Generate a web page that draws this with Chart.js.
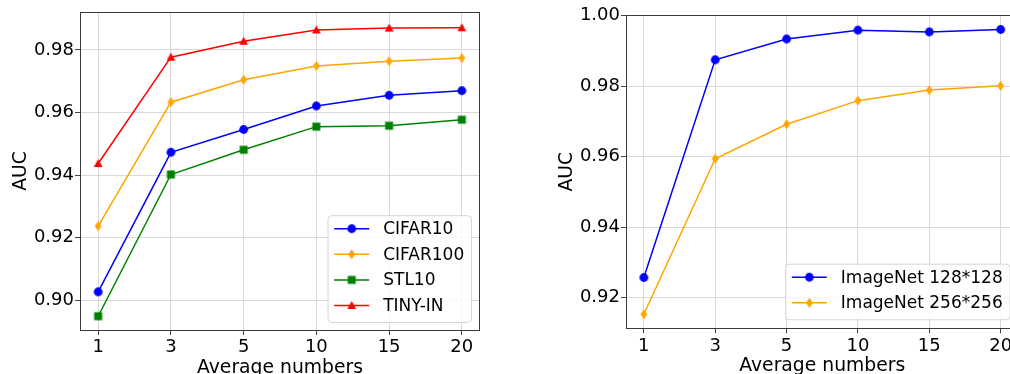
<!DOCTYPE html>
<html>
<head>
<meta charset="utf-8">
<script src="https://cdn.jsdelivr.net/npm/chart.js@4/dist/chart.umd.min.js"></script>
<style>
  html, body { margin: 0; padding: 0; background: #fff; }
  body { width: 1010px; height: 374px; overflow: hidden; position: relative; }
  canvas { position: absolute; top: 0; }
</style>
</head>
<body>
<canvas id="left" width="500" height="384" style="left:0px"></canvas>
<canvas id="right" width="530" height="384" style="left:510px"></canvas>
<script>
// values
const xLabels = ['1', '3', '5', '10', '15', '20'];

const cifar10 = [0.9027, 0.9473, 0.9546, 0.9621, 0.9655, 0.9670];
const cifar100 = [0.9237, 0.9633, 0.9705, 0.9749, 0.9764, 0.9774];
const stl10 = [0.8949, 0.9402, 0.9481, 0.9555, 0.9558, 0.9577];
const tinyIn = [0.9437, 0.9777, 0.9828, 0.9864, 0.9870, 0.9871];

const imagenet128 = [0.9257, 0.9875, 0.9934, 0.9959, 0.9954, 0.9961];
const imagenet256 = [0.9153, 0.9594, 0.9692, 0.9759, 0.9789, 0.9801];

const leftYTicks = [0.90, 0.92, 0.94, 0.96, 0.98];
const rightYTicks = [0.92, 0.94, 0.96, 0.98, 1.00];

Chart.defaults.font.family = 'DejaVu Sans';
Chart.defaults.color = '#000';

// marker images (matplotlib style)
function makeMarker(shape, color) {
    var c = document.createElement('canvas');
    c.width = 11; c.height = 11;
    var g = c.getContext('2d');
    g.fillStyle = color;
    g.beginPath();
    if (shape === 'o') {
        g.arc(5.5, 5.5, 4.4, 0, Math.PI * 2);
    } else if (shape === 's') {
        g.rect(1.5, 1.5, 8, 8);
    } else if (shape === '^') {
        g.moveTo(5.5, 1.0); g.lineTo(9.9, 8.9); g.lineTo(1.1, 8.9);
    } else if (shape === 'd') {
        g.moveTo(5.5, 0.4); g.lineTo(9.0, 5.5); g.lineTo(5.5, 10.6); g.lineTo(2.0, 5.5);
    }
    g.closePath();
    g.fill();
    return c;
}

function toPoints(arr) {
    return arr.map(function (v, i) { return {x: i, y: v}; });
}

function makeDataset(label, arr, color, shape) {
    return {
        label: label,
        data: toPoints(arr),
        borderColor: color,
        backgroundColor: color,
        borderWidth: 1.5,
        pointStyle: makeMarker(shape, color),
        pointRadius: 4,
        pointHoverRadius: 4,
        tension: 0
    };
}

// frame round the plot + legend box in lower right
const framePlugin = {
    id: 'frame',
    afterDatasetsDraw: function (chart) {
        var a = chart.chartArea, ctx = chart.ctx;
        ctx.save();
        ctx.strokeStyle = '#3a3a3a';
        ctx.lineWidth = 1;
        ctx.strokeRect(Math.round(a.left) + 0.5, Math.round(a.top) + 0.5,
            Math.round(a.right - a.left) - 1, Math.round(a.bottom - a.top));
        ctx.restore();
    }
};

const boxLegend = {
    id: 'boxLegend',
    afterDraw: function (chart, args, opts) {
        var ctx = chart.ctx, a = chart.chartArea;
        var sets = chart.data.datasets;
        ctx.save();
        ctx.font = '17px "DejaVu Sans"';
        var maxW = 0;
        sets.forEach(function (d) { maxW = Math.max(maxW, ctx.measureText(d.label).width); });
        var rowH = 25.6, padTop = 13.5, padBot = 16.5;
        var w = 55.7 + maxW + 6.8;
        var h = padTop + rowH * (sets.length - 1) + padBot;
        var x0 = a.right - opts.right - w;
        var y0 = a.bottom - opts.bottom - h;
        ctx.beginPath();
        ctx.roundRect(x0 + 0.5, y0 + 0.5, w, h, 4);
        ctx.fillStyle = 'rgba(255,255,255,0.8)';
        ctx.fill();
        ctx.strokeStyle = '#d6d6d6';
        ctx.lineWidth = 1;
        ctx.stroke();
        sets.forEach(function (d, i) {
            var y = y0 + padTop + i * rowH;
            ctx.strokeStyle = d.borderColor;
            ctx.lineWidth = 1.5;
            ctx.beginPath();
            ctx.moveTo(x0 + 6.7, y);
            ctx.lineTo(x0 + 41.7, y);
            ctx.stroke();
            var img = d.pointStyle;
            ctx.drawImage(img, x0 + 24.2 - img.width / 2, y - img.height / 2);
            ctx.fillStyle = '#000';
            ctx.textBaseline = 'middle';
            ctx.textAlign = 'left';
            ctx.fillText(d.label, x0 + 55.7, y + 1);
        });
        ctx.restore();
    }
};

function buildOptions(cfg) {
    return {
        responsive: false,
        animation: false,
        devicePixelRatio: 1,
        layout: {padding: {top: cfg.padTop, right: cfg.padRight, left: 0, bottom: 0}},
        plugins: {
            legend: {display: false},
            tooltip: {enabled: false},
            boxLegend: {right: 9, bottom: cfg.legendBottom}
        },
        scales: {
            x: {
                type: 'linear',
                min: -0.25,
                max: 5.25,
                afterBuildTicks: function (axis) {
                    axis.ticks = xLabels.map(function (_, i) { return {value: i}; });
                },
                afterFit: function (axis) { axis.height = cfg.xHeight; },
                ticks: {
                    font: {size: 18},
                    color: '#000',
                    padding: 2,
                    maxRotation: 0,
                    autoSkip: false,
                    callback: function (v) { return xLabels[v]; }
                },
                grid: {color: '#d9d9d9', tickColor: '#444', tickLength: 5, lineWidth: 1},
                border: {display: false},
                title: {display: true, text: 'Average numbers', font: {size: 18.75},
                    color: '#000', padding: {top: 0, bottom: cfg.xTitlePad}}
            },
            y: {
                min: cfg.yMin,
                max: cfg.yMax,
                afterBuildTicks: function (axis) {
                    axis.ticks = cfg.yTicks.map(function (v) { return {value: v}; });
                },
                afterFit: function (axis) { axis.width = cfg.yWidth; },
                ticks: {
                    font: {size: 18},
                    color: '#000',
                    padding: 1,
                    callback: function (v) { return v.toFixed(2); }
                },
                grid: {color: '#d9d9d9', tickColor: '#444', tickLength: 5, lineWidth: 1},
                border: {display: false},
                title: {display: true, text: 'AUC', font: {size: 18.75},
                    color: '#000', padding: {top: cfg.yTitlePad, bottom: 0}}
            }
        }
    };
}

new Chart(document.getElementById('left'), {
    type: 'line',
    data: {
        datasets: [
            makeDataset('CIFAR10', cifar10, '#0000ff', 'o'),
            makeDataset('CIFAR100', cifar100, '#ffa500', 'd'),
            makeDataset('STL10', stl10, '#008000', 's'),
            makeDataset('TINY-IN', tinyIn, '#ff0000', '^')
        ]
    },
    options: buildOptions({
        padTop: 10, padRight: 20, xHeight: 54, yWidth: 80,
        yMin: 0.8905, yMax: 0.9922, yTicks: leftYTicks,
        xTitlePad: 5, yTitlePad: 10, legendBottom: 8
    }),
    plugins: [framePlugin, boxLegend]
});

new Chart(document.getElementById('right'), {
    type: 'line',
    data: {
        datasets: [
            makeDataset('ImageNet 128*128', imagenet128, '#0000ff', 'o'),
            makeDataset('ImageNet 256*256', imagenet256, '#ffa500', 'd')
        ]
    },
    options: buildOptions({
        padTop: 15, padRight: 21.5, xHeight: 55.7, yWidth: 116,
        yMin: 0.9113, yMax: 1.0002, yTicks: rightYTicks,
        xTitlePad: 7, yTitlePad: 46, legendBottom: 9
    }),
    plugins: [framePlugin, boxLegend]
});
</script>
</body>
</html>
